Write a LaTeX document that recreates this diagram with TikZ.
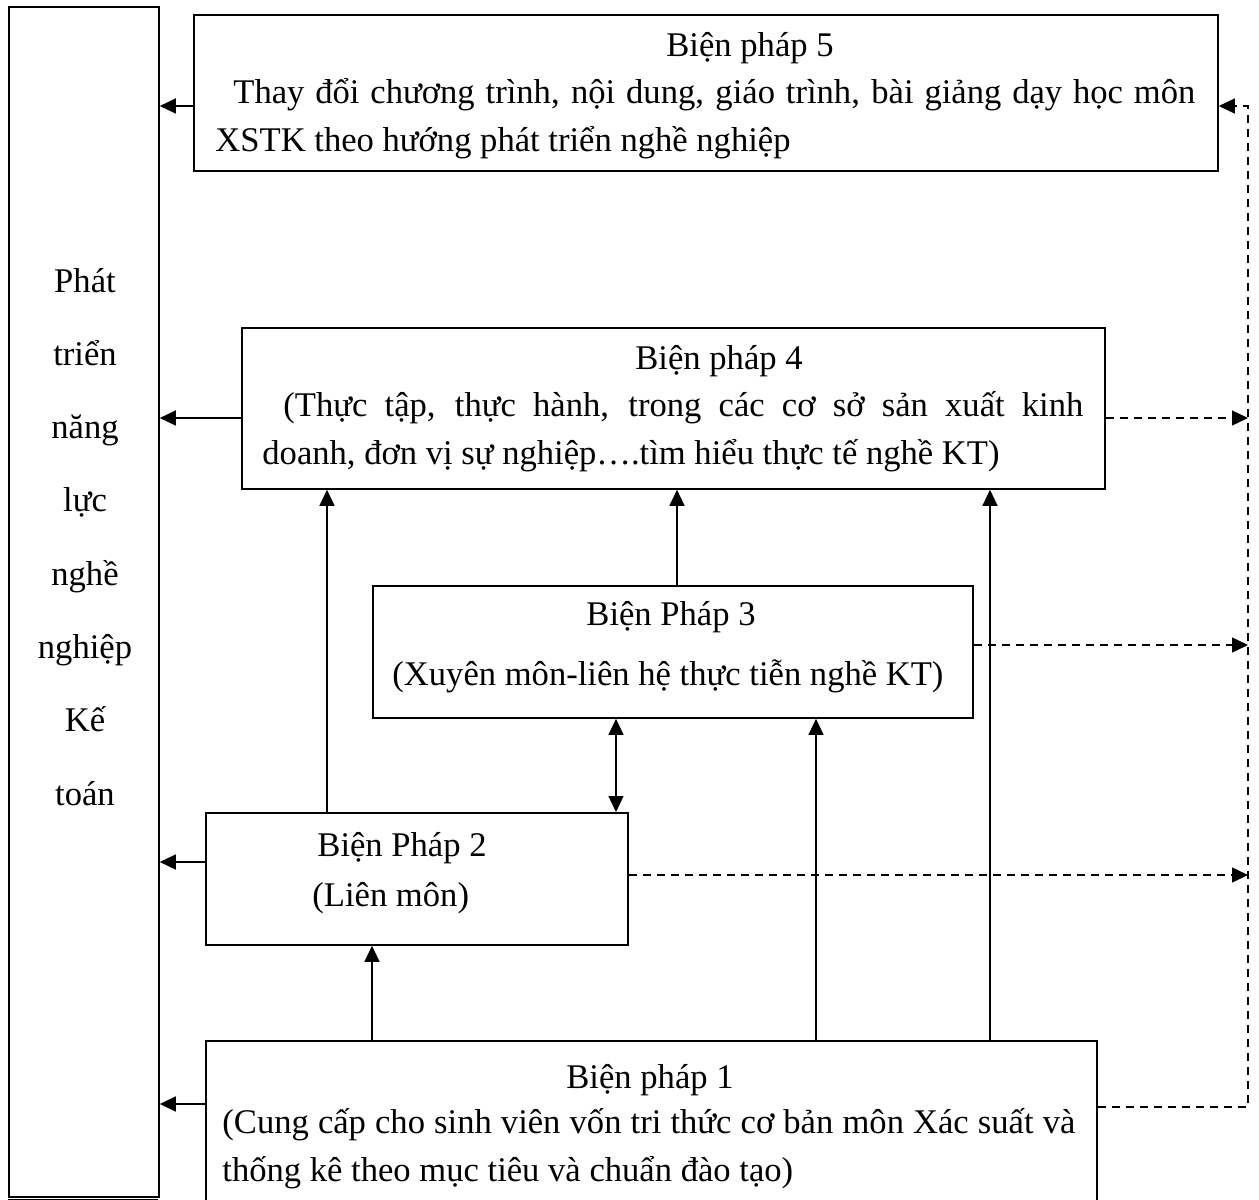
\documentclass[tikz,border=0pt]{standalone}
\usepackage{fontspec}
\setmainfont{Liberation Serif}
\usetikzlibrary{arrows.meta}

\begin{document}
\begin{tikzpicture}[
  x=0.5pt, y=-0.5pt,
  >={Triangle[length=8pt,width=7.5pt]},
  frame/.style={draw, rectangle, line width=0.9pt, anchor=north west, inner sep=0pt},
  body/.style={anchor=base west, inner sep=0pt, align=justify},
  title/.style={anchor=base, inner sep=0pt},
  link/.style={->, line width=0.7pt},
  twoway/.style={<->, line width=0.7pt},
  feed/.style={->, line width=0.7pt, dash pattern=on 4pt off 3pt},
  every node/.style={font=\fontsize{17.3}{24}\selectfont}
]
  \useasboundingbox (0,0) rectangle (1259,1200);

  % left column
  \node[frame, minimum width=75pt, minimum height=595pt] (goal) at (8,6) {};
  \draw[line width=0.9pt] (8,1199.5) -- (158,1199.5);
  \foreach \w [count=\i] in {Phát,triển,năng,lực,nghề,nghiệp,Kế,toán}
    \node[title] (w\i) at (85,{292+73.3*(\i-1)}) {\w};

  % boxes
  \node[frame, minimum width=512pt, minimum height=78pt] (b5) at (193,14) {};
  \node[frame, minimum width=431.5pt, minimum height=80.5pt] (b4) at (241,327) {};
  \node[frame, minimum width=300pt, minimum height=66pt] (b3) at (372,585) {};
  \node[frame, minimum width=211pt, minimum height=66pt] (b2) at (205,812) {};
  \node[frame, minimum width=445.5pt, minimum height=87.5pt] (b1) at (205,1040) {};

  % texts
  \node[title] (t5) at (750,56) {Biện pháp 5};
  \node[body, text width=490pt] (p5) at (215,103)
    {\hspace*{9pt}Thay đổi chương trình, nội dung, giáo trình, bài giảng dạy học môn\linebreak XSTK theo hướng phát triển nghề nghiệp};
  \node[title] (t4) at (719,369) {Biện pháp 4};
  \node[body, text width=410.5pt] (p4) at (262,416)
    {\hspace*{10.5pt}(Thực tập, thực hành, trong các cơ sở sản xuất kinh\linebreak doanh, đơn vị sự nghiệp….tìm hiểu thực tế nghề KT)};
  \node[title] (t3) at (671,625) {Biện Pháp 3};
  \node[body] (p3) at (392,685) {(Xuyên môn-liên hệ thực tiễn nghề KT)};
  \node[title] (t2) at (402,856) {Biện Pháp 2};
  \node[body] (p2) at (312,906) {(Liên môn)};
  \node[title] (t1) at (650,1088) {Biện pháp 1};
  \node[body, text width=426.5pt] (p1) at (222,1133)
    {(Cung cấp cho sinh viên vốn tri thức cơ bản môn Xác suất và\linebreak thống kê theo mục tiêu và chuẩn đào tạo)};

  % arrows to the left column
  \draw[link] (b5.west |- 0,106) -- (goal.east |- 0,106);
  \draw[link] (b4.west |- 0,418) -- (goal.east |- 0,418);
  \draw[link] (b2.west |- 0,862) -- (goal.east |- 0,862);
  \draw[link] (b1.west |- 0,1104) -- (goal.east |- 0,1104);

  % arrows between boxes
  \draw[link] (b2.north -| 327,0) -- (b4.south -| 327,0);
  \draw[link] (b1.north -| 372,0) -- (b2.south -| 372,0);
  \draw[link] (b3.north -| 677,0) -- (b4.south -| 677,0);
  \draw[twoway] (b3.south -| 616,0) -- (b2.north -| 616,0);
  \draw[link] (b1.north -| 816,0) -- (b3.south -| 816,0);
  \draw[link] (b1.north -| 990,0) -- (b4.south -| 990,0);

  % dashed rail on the right
  \coordinate (railtop) at (1248,106);
  \coordinate (r4) at (1248,418);
  \coordinate (r3) at (1248,645);
  \coordinate (r2) at (1248,875);
  \draw[feed] (b1.east |- 0,1107) -| (railtop) -- (b5.east |- railtop);
  \draw[feed] (b4.east |- r4) -- (r4);
  \draw[feed] (b3.east |- r3) -- (r3);
  \draw[feed] (b2.east |- r2) -- (r2);
\end{tikzpicture}
\end{document}
